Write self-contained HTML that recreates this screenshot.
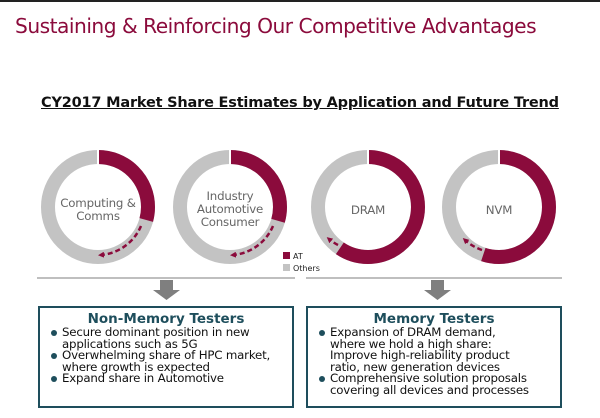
<!DOCTYPE html>
<html><head><meta charset="utf-8"><style>
body{margin:0;width:600px;height:418px;background:#fff;position:relative;overflow:hidden;font-family:"DejaVu Sans","Liberation Sans",sans-serif}
.t{position:absolute;white-space:nowrap}
.box{position:absolute;border:2.5px solid #1e4e5c;box-sizing:border-box;top:306px;height:102px}
.box h3{margin:0;text-align:center;color:#1e4e5c;font-size:13.5px;font-weight:bold;line-height:16px;margin-top:3px}
.box ul{margin:0;padding:0 0 0 10px;list-style:none;font-size:11.8px;line-height:11.6px;color:#111;letter-spacing:-0.2px;white-space:nowrap}
.box li{position:relative;padding-left:12px}
.box li:before{content:"";position:absolute;left:1px;top:3px;width:6px;height:6px;border-radius:50%;background:#1e4e5c}
</style></head><body>
<div style="position:absolute;left:0;top:0;width:600px;height:2px;background:#222"></div>
<div class="t" style="left:15px;top:14px;font-size:20.2px;color:#8b0b3c;font-family:'DejaVu Sans',sans-serif;letter-spacing:-0.5px">Sustaining &amp; Reinforcing Our Competitive Advantages</div>
<div class="t" style="left:41px;top:95px;font-size:14.5px;font-weight:bold;text-decoration:underline;color:#111;letter-spacing:-0.2px">CY2017 Market Share Estimates by Application and Future Trend</div>
<svg width="600" height="418" style="position:absolute;left:0;top:0">
<defs><marker id="ah" markerWidth="6" markerHeight="6" refX="3" refY="3" orient="auto" markerUnits="userSpaceOnUse"><path d="M0,0 L6,3 L0,6 z" fill="#8b0b3c"/></marker></defs>
<g fill="none" stroke-width="14">
<circle cx="98" cy="207" r="50" stroke="#c3c3c3"/>
<circle cx="98" cy="207" r="50" stroke="#8b0b3c" stroke-dasharray="91.6 400" transform="rotate(-90 98 207)"/>
<circle cx="230" cy="207" r="50" stroke="#c3c3c3"/>
<circle cx="230" cy="207" r="50" stroke="#8b0b3c" stroke-dasharray="92.5 400" transform="rotate(-90 230 207)"/>
<circle cx="368" cy="207" r="50" stroke="#c3c3c3"/>
<circle cx="368" cy="207" r="50" stroke="#8b0b3c" stroke-dasharray="186.7 400" transform="rotate(-90 368 207)"/>
<circle cx="499" cy="207" r="50" stroke="#c3c3c3"/>
<circle cx="499" cy="207" r="50" stroke="#8b0b3c" stroke-dasharray="172.8 400" transform="rotate(-90 499 207)"/>
</g>
<g stroke="#fff" stroke-width="2"><line x1="98" y1="149" x2="98" y2="165"/><line x1="230" y1="149" x2="230" y2="165"/><line x1="368" y1="149" x2="368" y2="165"/><line x1="499" y1="149" x2="499" y2="165"/></g>
<g fill="none" stroke="#8b0b3c" stroke-width="2.5" stroke-dasharray="5 3" marker-end="url(#ah)">
<path d="M141,226 A48,48 0 0 1 101,255"/>
<path d="M273,226 A48,48 0 0 1 233,255"/>
<path d="M338,245 A48,48 0 0 1 329,239"/>
<path d="M482,250 A48,48 0 0 1 465,240"/>
</g>
<g font-family="DejaVu Sans,sans-serif" font-size="11.8" fill="#666" text-anchor="middle" letter-spacing="-0.2">
<text x="98" y="207">Computing &amp;</text><text x="98" y="220">Comms</text>
<text x="230" y="200">Industry</text><text x="230" y="213">Automotive</text><text x="230" y="226">Consumer</text>
<text x="368" y="214">DRAM</text><text x="499" y="214">NVM</text>
</g>
<rect x="283" y="252" width="7" height="7" fill="#8b0b3c"/>
<rect x="283" y="264" width="7" height="7" fill="#c3c3c3"/>
<text x="293" y="259" font-size="8" fill="#222" font-family="DejaVu Sans,sans-serif">AT</text>
<text x="293" y="271" font-size="8" fill="#222" font-family="DejaVu Sans,sans-serif">Others</text>
<line x1="37" y1="278" x2="295" y2="278" stroke="#999" stroke-width="1.3"/>
<line x1="306" y1="278" x2="562" y2="278" stroke="#999" stroke-width="1.3"/>
<path d="M160,280 H173 V290 H180 L166.5,300 L153,290 H160 Z" fill="#7f7f7f"/>
<path d="M431,280 H444 V290 H451 L437.5,300 L424,290 H431 Z" fill="#7f7f7f"/>
</svg>
<div class="box" style="left:38px;width:256px"><h3>Non-Memory Testers</h3><ul>
<li>Secure dominant position in new<br>applications such as 5G</li>
<li>Overwhelming share of HPC market,<br>where growth is expected</li>
<li>Expand share in Automotive</li></ul></div>
<div class="box" style="left:306px;width:256px"><h3>Memory Testers</h3><ul>
<li>Expansion of DRAM demand,<br>where we hold a high share:<br>Improve high-reliability product<br>ratio, new generation devices</li>
<li>Comprehensive solution proposals<br>covering all devices and processes</li></ul></div>
</body></html>
